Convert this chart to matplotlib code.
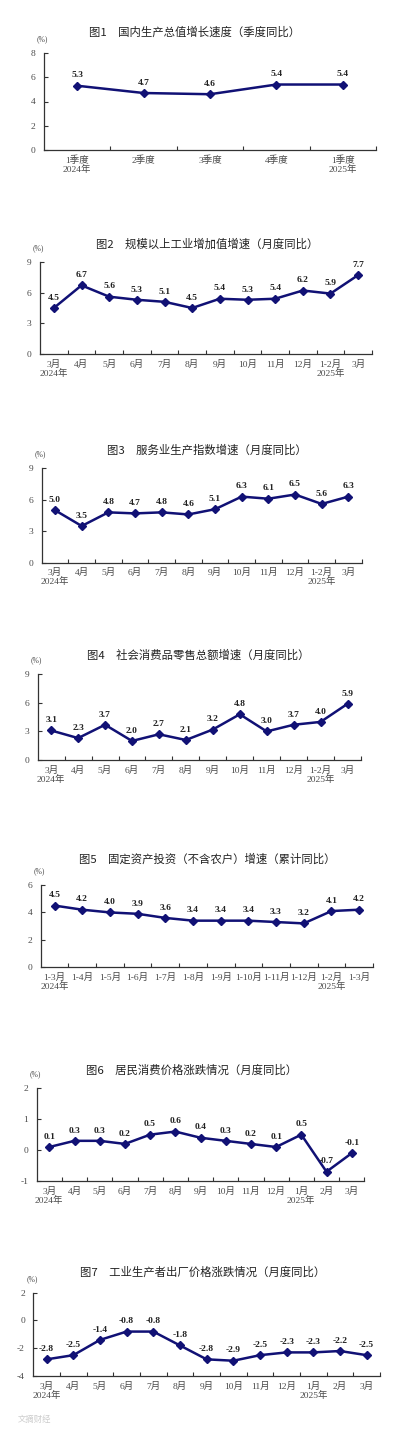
import matplotlib
matplotlib.use("Agg")
import matplotlib.pyplot as plt

plt.rcParams['font.family'] = ['Liberation Serif', 'Noto Sans CJK SC', 'DejaVu Sans']

# ---------------- data ----------------
titles = [
    "图1　国内生产总值增长速度（季度同比）",
    "图2　规模以上工业增加值增速（月度同比）",
    "图3　服务业生产指数增速（月度同比）",
    "图4　社会消费品零售总额增速（月度同比）",
    "图5　固定资产投资（不含农户）增速（累计同比）",
    "图6　居民消费价格涨跌情况（月度同比）",
    "图7　工业生产者出厂价格涨跌情况（月度同比）",
]

cats1 = ["1季度\n2024年", "2季度", "3季度", "4季度", "1季度\n2025年"]
vals1 = [5.3, 4.7, 4.6, 5.4, 5.4]

cats_m12 = ["3月\n2024年", "4月", "5月", "6月", "7月", "8月", "9月", "10月",
            "11月", "12月", "1-2月\n2025年", "3月"]
vals2 = [4.5, 6.7, 5.6, 5.3, 5.1, 4.5, 5.4, 5.3, 5.4, 6.2, 5.9, 7.7]
vals3 = [5.0, 3.5, 4.8, 4.7, 4.8, 4.6, 5.1, 6.3, 6.1, 6.5, 5.6, 6.3]
vals4 = [3.1, 2.3, 3.7, 2.0, 2.7, 2.1, 3.2, 4.8, 3.0, 3.7, 4.0, 5.9]

cats5 = ["1-3月\n2024年", "1-4月", "1-5月", "1-6月", "1-7月", "1-8月", "1-9月",
         "1-10月", "1-11月", "1-12月", "1-2月\n2025年", "1-3月"]
vals5 = [4.5, 4.2, 4.0, 3.9, 3.6, 3.4, 3.4, 3.4, 3.3, 3.2, 4.1, 4.2]

cats_m13 = ["3月\n2024年", "4月", "5月", "6月", "7月", "8月", "9月", "10月",
            "11月", "12月", "1月\n2025年", "2月", "3月"]
vals6 = [0.1, 0.3, 0.3, 0.2, 0.5, 0.6, 0.4, 0.3, 0.2, 0.1, 0.5, -0.7, -0.1]
vals7 = [-2.8, -2.5, -1.4, -0.8, -0.8, -1.8, -2.8, -2.9, -2.5, -2.3, -2.3, -2.2, -2.5]

yticks_list = [[0, 2, 4, 6, 8], [0, 3, 6, 9], [0, 3, 6, 9], [0, 3, 6, 9],
               [0, 2, 4, 6], [-1, 0, 1, 2], [-4, -2, 0, 2]]

panels = [
    (cats1, vals1), (cats_m12, vals2), (cats_m12, vals3), (cats_m12, vals4),
    (cats5, vals5), (cats_m13, vals6), (cats_m13, vals7),
]

# ---------------- layout (pixels) ----------------
W, H = 395, 1432
# x0, x1, ytop, ybottom, title_y, title_cx
boxes = [
    (44, 376, 53, 150, 32, 195),
    (40, 372, 261.7, 354.3, 244, 207),
    (41.7, 361.7, 468.3, 562.7, 450, 207),
    (37.7, 361, 674.3, 760, 655, 198),
    (40.7, 373, 885, 967.3, 859, 207),
    (36.7, 364.3, 1088.3, 1181, 1070, 192),
    (33.3, 380, 1292.7, 1376, 1271.7, 203),
]

LINE = "#111175"
AXC = "#333333"
TXT = "#4a4a4a"

fig = plt.figure(figsize=(W / 100, H / 100), dpi=100)
fig.patch.set_facecolor("white")

for (cats, vals), yt, title, (x0, x1, yt_px, yb_px, ty, tcx) in zip(panels, yticks_list, titles, boxes):
    ax = fig.add_axes([x0 / W, 1 - yb_px / H, (x1 - x0) / W, (yb_px - yt_px) / H])
    n = len(cats)
    xs = list(range(n))
    ax.plot(xs, vals, color=LINE, lw=1.8, marker="D", ms=4, mfc=LINE, mec=LINE, zorder=3)
    ax.set_xlim(-0.5, n - 0.5)
    ax.set_ylim(yt[0], yt[-1])
    ax.set_yticks(yt)
    ax.set_yticklabels([("-" + str(abs(v))) if v < 0 else str(v) for v in yt])
    ax.set_xticks([i + 0.5 for i in range(n)])
    ax.set_xticklabels([])
    ax.set_xticks(xs, minor=True)
    ax.set_xticklabels(cats, minor=True, fontsize=6.8, color=TXT, linespacing=1.0,
                       family=['Liberation Serif', 'Noto Sans CJK SC'])
    ax.tick_params(axis="x", which="major", direction="in", length=3, color=AXC, width=0.8)
    ax.tick_params(axis="x", which="minor", length=0, pad=4)
    ax.tick_params(axis="y", direction="in", length=3, color=AXC, width=0.8,
                   labelsize=6.8, labelcolor=TXT, pad=6)
    for s in ["top", "right"]:
        ax.spines[s].set_visible(False)
    for s in ["left", "bottom"]:
        ax.spines[s].set_color(AXC)
        ax.spines[s].set_linewidth(0.9)
    ax.set_facecolor("none")
    for x, v in zip(xs, vals):
        ax.annotate(f"{v:.1f}", (x, v), xytext=(0, 4.5), textcoords="offset points",
                    ha="center", va="bottom", fontsize=6.8, fontweight="bold",
                    color="#222222", family="Liberation Serif")
    ax.annotate("(%)", xy=(0, 1), xycoords="axes fraction", xytext=(-1, 7),
                textcoords="offset points", ha="center", va="bottom",
                fontsize=5.5, color=TXT, family="Liberation Serif")
    fig.text(tcx / W, 1 - ty / H, title, ha="center", va="center", fontsize=8.2,
             color="#222222", family=['Noto Sans CJK SC', 'DejaVu Sans'])

fig.text(18 / W, 1 - 1419 / H, "文摘财经", fontsize=6, color="#cccccc",
         family=['Noto Sans CJK SC'], ha="left", va="center")

fig.savefig("out.png", dpi=100, facecolor="white")
